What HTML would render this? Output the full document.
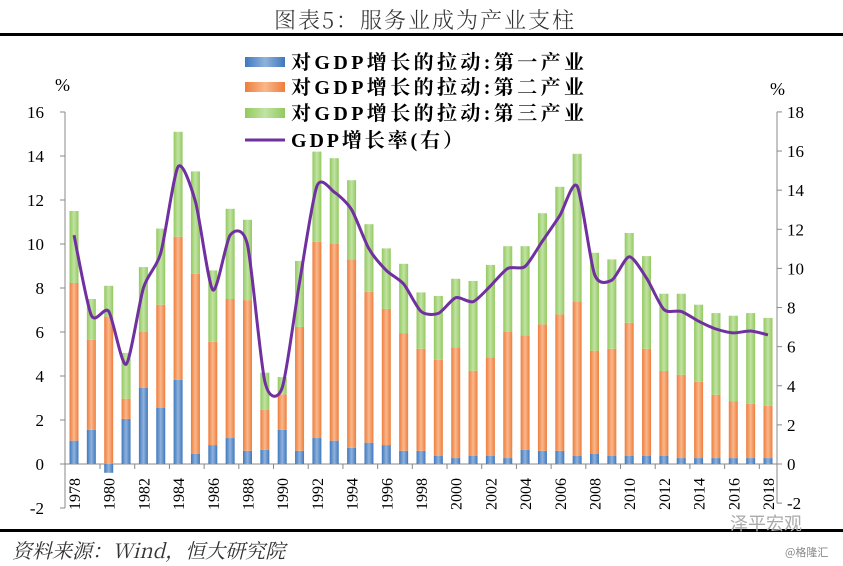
<!DOCTYPE html>
<html><head><meta charset="utf-8">
<style>
html,body{margin:0;padding:0;background:#fff;}
svg{display:block;}
</style></head>
<body>
<svg id="c" width="843" height="566" xmlns="http://www.w3.org/2000/svg" font-family="'Liberation Serif','Noto Serif CJK SC',serif">
<defs>
<linearGradient id="gb" x1="0" x2="1"><stop offset="0" stop-color="#3f78bd"/><stop offset="0.5" stop-color="#8fb2dc"/><stop offset="1" stop-color="#3f78bd"/></linearGradient>
<linearGradient id="go" x1="0" x2="1"><stop offset="0" stop-color="#ee7d3c"/><stop offset="0.5" stop-color="#f9b88c"/><stop offset="1" stop-color="#ee7d3c"/></linearGradient>
<linearGradient id="gg" x1="0" x2="1"><stop offset="0" stop-color="#92c95e"/><stop offset="0.5" stop-color="#c2e3a4"/><stop offset="1" stop-color="#92c95e"/></linearGradient>
</defs>
<text x="425" y="28" font-size="22" text-anchor="middle" fill="#333" font-family="'Noto Serif CJK SC','Liberation Serif',serif" font-weight="300" letter-spacing="2">图表5：服务业成为产业支柱</text>
<rect x="0" y="33" width="843" height="3" fill="#000"/>
<rect x="0" y="529" width="843" height="3" fill="#000"/>
<text x="12" y="558" font-size="20" font-style="italic" fill="#333" font-family="'Noto Serif CJK SC','Liberation Serif',serif">资料来源：Wind，恒大研究院</text>
<text x="730" y="530" font-size="18" fill="#aaa" font-family="'Noto Sans CJK SC',sans-serif">泽平宏观</text>
<text x="785" y="556" font-size="11" fill="#888" font-family="'Noto Sans CJK SC',sans-serif">@格隆汇</text>
<g id="g"></g>
</svg>
<script>
var g=document.getElementById('g');
var h='';
var Y0=464,LU=22,RU=19.56,AX=65,AXR=777;
function ly(v){return Y0-v*LU;}
function ry(v){return Y0-v*RU;}
h+='<line x1="'+AX+'" y1="'+ly(16)+'" x2="'+AX+'" y2="'+ly(-2)+'" stroke="#888" stroke-width="1"/>';
h+='<line x1="'+AXR+'" y1="'+ry(18)+'" x2="'+AXR+'" y2="'+ry(-2)+'" stroke="#888" stroke-width="1"/>';
for(var v=-2;v<=16;v+=2){var y=ly(v);h+='<line x1="'+(AX-5)+'" y1="'+y+'" x2="'+AX+'" y2="'+y+'" stroke="#888"/>';
h+='<text x="44" y="'+(y+6)+'" font-size="17" text-anchor="end" fill="#000">'+(v<0?'-2':v)+'</text>';}
for(var v=-2;v<=18;v+=2){var y=ry(v);h+='<line x1="'+AXR+'" y1="'+y+'" x2="'+(AXR+5)+'" y2="'+y+'" stroke="#888"/>';
h+='<text x="787" y="'+(y+6)+'" font-size="17" fill="#000">'+(v<0?'-2':v)+'</text>';}
h+='<text x="55" y="91" font-size="18">%</text><text x="770" y="95" font-size="18">%</text>';
h+='<line x1="'+AX+'" y1="'+Y0+'" x2="'+AXR+'" y2="'+Y0+'" stroke="#888"/>';
var b=[1.06,1.55,-0.4,2.05,3.47,2.56,3.83,0.47,0.86,1.18,0.6,0.64,1.55,0.6,1.18,1.06,0.74,0.97,0.86,0.6,0.6,0.38,0.27,0.38,0.38,0.27,0.65,0.6,0.6,0.38,0.47,0.38,0.38,0.38,0.38,0.27,0.27,0.27,0.27,0.27,0.27];
var o=[8.23,5.65,6.7,2.97,6.0,7.24,10.33,8.65,5.55,7.5,7.45,2.47,3.17,6.23,10.1,10.0,9.3,7.83,7.05,5.95,5.24,4.74,5.3,4.24,4.85,6.0,5.85,6.35,6.8,7.4,5.15,5.24,6.42,5.24,4.23,4.06,3.74,3.15,2.86,2.74,2.64];
var gr=[11.5,7.5,8.1,5.05,8.95,10.7,15.1,13.3,8.8,11.6,11.1,4.15,3.95,9.23,14.2,13.9,12.9,10.9,9.8,9.1,7.8,7.64,8.42,8.32,9.05,9.9,9.9,11.4,12.6,14.1,9.6,9.3,10.5,9.45,7.74,7.74,7.24,6.86,6.74,6.86,6.64];
var gdp=[11.7,7.6,7.8,5.1,9.0,10.8,15.2,13.4,8.9,11.7,11.2,4.2,3.9,9.3,14.2,13.9,13.0,11.0,9.9,9.2,7.8,7.7,8.5,8.3,9.1,10.0,10.1,11.4,12.7,14.2,9.7,9.4,10.6,9.5,7.9,7.8,7.3,6.9,6.7,6.8,6.6];
var S=17.35,X0=74,W=9;
var pts=[];
for(var i=0;i<41;i++){var x=X0+i*S;
 var bx=x-W/2;
 if(b[i]>=0){h+='<rect x="'+bx+'" y="'+ly(b[i])+'" width="'+W+'" height="'+(b[i]*LU)+'" fill="url(#gb)"/>';}
 else{h+='<rect x="'+bx+'" y="'+Y0+'" width="'+W+'" height="'+(-b[i]*LU)+'" fill="url(#gb)"/>';}
 var ob=Math.max(b[i],0);
 h+='<rect x="'+bx+'" y="'+ly(o[i])+'" width="'+W+'" height="'+((o[i]-ob)*LU)+'" fill="url(#go)"/>';
 h+='<rect x="'+bx+'" y="'+ly(gr[i])+'" width="'+W+'" height="'+((gr[i]-o[i])*LU)+'" fill="url(#gg)"/>';
 pts.push([x,ry(gdp[i])]);
 if(i%2==0){h+='<text transform="translate('+(x+6)+',510) rotate(-90)" font-size="16" fill="#000">'+(1978+i)+'</text>';}
 if(i%2==1){var tx=x+S/2;h+='<line x1="'+tx+'" y1="'+Y0+'" x2="'+tx+'" y2="'+(Y0+5)+'" stroke="#888"/>';}
}
var d='M'+pts[0][0]+','+pts[0][1];
var T=8;
for(var i=0;i<pts.length-1;i++){var p0=pts[Math.max(i-1,0)],p1=pts[i],p2=pts[i+1],p3=pts[Math.min(i+2,pts.length-1)];
 var c1x=p1[0]+(p2[0]-p0[0])/T,c1y=p1[1]+(p2[1]-p0[1])/T,c2x=p2[0]-(p3[0]-p1[0])/T,c2y=p2[1]-(p3[1]-p1[1])/T;
 d+=' C'+c1x.toFixed(1)+','+c1y.toFixed(1)+' '+c2x.toFixed(1)+','+c2y.toFixed(1)+' '+p2[0].toFixed(1)+','+p2[1].toFixed(1);}
h+='<path d="'+d+'" fill="none" stroke="#7030A0" stroke-width="3"/>';
var L=['对GDP增长的拉动:第一产业','对GDP增长的拉动:第二产业','对GDP增长的拉动:第三产业'];
var F=['url(#gb)','url(#go)','url(#gg)'],ys=[62,87,113];
for(var k=0;k<3;k++){h+='<rect x="245" y="'+(ys[k]-5)+'" width="40" height="10" fill="'+F[k]+'"/>';
 h+='<text x="291" y="'+(ys[k]+7)+'" font-size="20" font-weight="bold" fill="#000" textLength="293" lengthAdjust="spacing">'+L[k]+'</text>';}
h+='<line x1="245" y1="140" x2="285" y2="140" stroke="#7030A0" stroke-width="3"/>';
h+='<text x="291" y="147" font-size="20" font-weight="bold" fill="#000" textLength="172" lengthAdjust="spacing">GDP增长率(右）</text>';
g.innerHTML=h;
</script>
</body></html>
